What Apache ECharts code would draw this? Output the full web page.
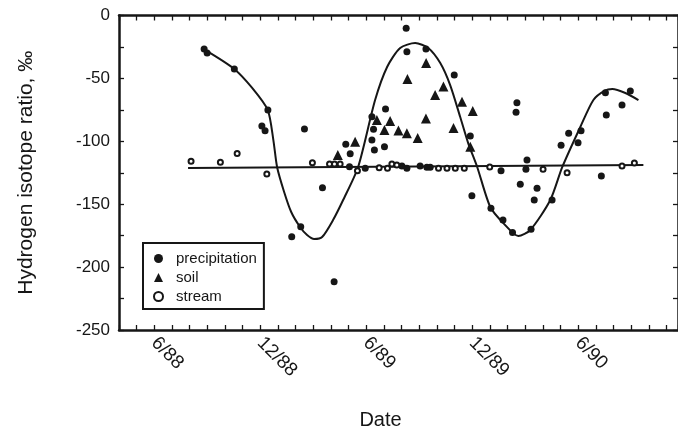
<!DOCTYPE html>
<html>
<head>
<meta charset="utf-8">
<title>Hydrogen isotope ratio</title>
<script src="https://cdn.jsdelivr.net/npm/echarts@6/dist/echarts.min.js"></script>
<style>
  html, body { margin: 0; padding: 0; background: #fff; }
  #chart { width: 678px; height: 431px; }
</style>
</head>
<body>
<div id="chart"></div>
<script>
// x = months counted from 1/88 (0 = 1/88, 5 = 6/88, ...), y = per mil
var tickMonths = [5, 11, 17, 23, 29];
var tickLabels = ['6/88', '12/88', '6/89', '12/89', '6/90'];

var precipitation = [
  [7.82, -26.6], [7.99, -29.8], [9.53, -42.5], [11.43, -75.1], [11.09, -87.8],
  [11.27, -91.6], [13.50, -90.2], [12.78, -175.9], [13.29, -167.9], [14.52, -136.9],
  [15.18, -211.6], [15.84, -102.4], [16.09, -109.9], [16.05, -120.2], [16.94, -121.5],
  [17.32, -80.5], [17.41, -90.5], [17.32, -99.0], [17.46, -106.9], [18.03, -104.3],
  [18.09, -74.3], [19.26, -10.2], [19.30, -28.8], [20.38, -26.6], [21.98, -47.3],
  [22.89, -95.8], [19.02, -119.6], [19.30, -121.5], [20.05, -119.6], [20.43, -120.7],
  [20.62, -120.7], [22.98, -143.3], [24.06, -153.3], [24.63, -123.4], [24.74, -162.6],
  [25.28, -172.4], [25.53, -69.3], [25.48, -77.0], [25.72, -134.2], [26.10, -114.9],
  [26.04, -122.3], [26.33, -170.0], [26.51, -146.7], [26.67, -137.4], [27.52, -146.7],
  [28.03, -103.2], [28.46, -93.7], [28.99, -101.1], [29.16, -91.6], [30.31, -127.6],
  [30.54, -61.4], [30.59, -79.1], [31.48, -71.2], [31.95, -60.0]
];

var soil = [
  [15.39, -110.9], [16.37, -100.3], [17.60, -83.1], [18.35, -83.9], [18.03, -91.0],
  [18.82, -91.4], [19.30, -93.7], [19.91, -97.4], [20.38, -81.9], [19.33, -50.5],
  [20.39, -37.8], [21.37, -56.4], [20.90, -63.2], [22.42, -68.5], [23.03, -75.9],
  [21.94, -89.4], [22.89, -104.3]
];

var stream = [
  [7.08, -115.9], [8.74, -116.7], [9.69, -109.6], [11.37, -126.0], [13.95, -117.0],
  [14.92, -118.1], [15.20, -118.1], [15.52, -118.1], [16.50, -123.4], [17.73, -121.0],
  [18.20, -121.5], [18.45, -118.1], [18.73, -118.9], [21.09, -121.5], [21.57, -121.5],
  [22.04, -121.5], [22.55, -121.5], [23.99, -120.4], [27.01, -122.3], [28.37, -125.0],
  [31.48, -119.6], [32.18, -117.3]
];

var streamMean = [[6.91, -121.2], [32.69, -118.9]];

var precipFit = [
  [7.87, -27.4], [9.52, -42.5], [10.54, -57.6], [11.42, -75.1], [11.74, -99.0],
  [11.95, -120.4], [12.35, -140.3], [12.75, -156.2], [13.25, -168.1], [13.65, -174.5],
  [14.05, -177.7], [14.50, -176.1], [15.12, -162.6], [15.69, -146.7], [16.54, -120.4],
  [17.50, -67.2], [18.18, -40.9], [18.92, -25.8], [19.77, -21.9], [20.51, -25.8],
  [21.19, -37.8], [21.75, -55.3], [22.32, -80.7], [22.77, -101.4], [23.28, -120.4],
  [24.02, -152.2], [24.76, -165.0], [25.61, -175.3], [26.29, -170.5], [27.42, -146.7],
  [28.10, -120.4], [29.12, -88.6], [29.86, -67.2], [30.48, -60.0], [30.93, -58.4],
  [31.67, -61.6], [32.41, -67.2]
];

var ink = '#161616';
var font = 'Liberation Sans, Arial, Helvetica, sans-serif';

var chart = echarts.init(document.getElementById('chart'), null, { renderer: 'canvas' });

function monthLabel(v) {
  var i = tickMonths.indexOf(Math.round(v));
  return (i >= 0 && Math.abs(v - tickMonths[i]) < 0.01) ? tickLabels[i] : '';
}

var xBase = {
  type: 'value', min: 3, max: 34.65, interval: 1,
  splitLine: { show: false },
  axisLine: { show: true, onZero: false, lineStyle: { color: ink, width: 2.5 } },
  axisTick: { show: true, inside: true, length: 5, lineStyle: { color: ink, width: 1.3 } }
};
var yBase = {
  type: 'value', min: -250, max: 0, interval: 25,
  splitLine: { show: false },
  axisLine: { show: true, onZero: false, lineStyle: { color: ink, width: 2.5 } },
  axisTick: { show: true, inside: true, length: 5, lineStyle: { color: ink, width: 1.3 } }
};

chart.setOption({
  animation: false,
  backgroundColor: '#fff',
  textStyle: { fontFamily: font },
  grid: { left: 119, right: 0, top: 15.5, bottom: 101, containLabel: false, outerBoundsMode: 'none' },
  legend: {
    left: 143, top: 243, orient: 'vertical',
    data: ['precipitation', 'soil', 'stream'],
    borderColor: ink, borderWidth: 2, borderRadius: 0,
    padding: [8, 7, 5, 10],
    itemWidth: 9, itemHeight: 9, itemGap: 4,
    textStyle: { fontFamily: font, fontSize: 15, color: ink, padding: [0, 0, 0, 8] }
  },
  xAxis: [
    Object.assign({}, xBase, {
      position: 'bottom',
      name: 'Date', nameLocation: 'middle', nameGap: 80,
      nameTextStyle: { fontFamily: font, fontSize: 20, color: ink, padding: [0, 36, 0, 0] },
      axisLabel: {
        show: true, rotate: -45, margin: 10, interval: 0,
        fontFamily: font, fontSize: 19, color: ink,
        formatter: monthLabel
      }
    }),
    Object.assign({}, xBase, { position: 'top', axisLabel: { show: false } })
  ],
  yAxis: [
    Object.assign({}, yBase, {
      position: 'left',
      name: 'Hydrogen isotope ratio, ‰', nameLocation: 'middle', nameGap: 82,
      nameTextStyle: { fontFamily: font, fontSize: 21, color: ink },
      axisLabel: {
        show: true, margin: 9, fontFamily: font, fontSize: 17, color: ink,
        formatter: function (v) { return v % 50 === 0 ? String(v) : ''; }
      }
    }),
    Object.assign({}, yBase, { position: 'right', axisLabel: { show: false } })
  ],
  series: [
    {
      name: 'fit', type: 'line', data: precipFit, smooth: 0.25,
      showSymbol: false, symbol: 'none', silent: true, clip: false,
      lineStyle: { color: ink, width: 2 }, z: 2
    },
    {
      name: 'stream mean', type: 'line', data: streamMean,
      showSymbol: false, symbol: 'none', silent: true,
      lineStyle: { color: ink, width: 2 }, z: 2
    },
    {
      name: 'precipitation', type: 'scatter', data: precipitation,
      symbol: 'circle', symbolSize: 7,
      itemStyle: { color: ink, opacity: 1 }, z: 3
    },
    {
      name: 'soil', type: 'scatter', data: soil,
      symbol: 'triangle', symbolSize: 10,
      itemStyle: { color: ink, opacity: 1 }, z: 3
    },
    {
      name: 'stream', type: 'scatter', data: stream,
      symbol: 'emptyCircle', symbolSize: 5,
      itemStyle: { color: ink, borderWidth: 1.4, opacity: 1 }, z: 4
    }
  ]
});
</script>
</body>
</html>
